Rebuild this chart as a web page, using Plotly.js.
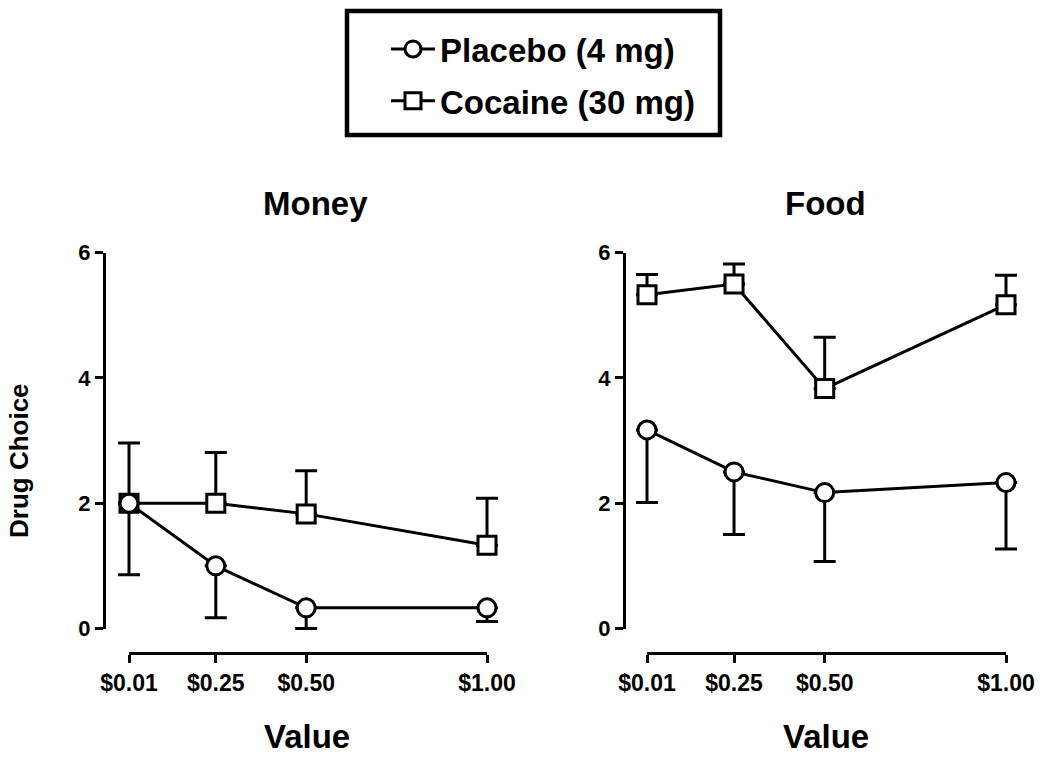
<!DOCTYPE html>
<html>
<head>
<meta charset="utf-8">
<script src="https://cdn.plot.ly/plotly-3.0.1.min.js"></script>
<style>html,body{margin:0;padding:0;background:#fff;}#chart{width:1050px;height:777px;}</style>
</head>
<body>
<div id="chart"></div>
<script>
// ---- data ----
const xValues = [0.01, 0.25, 0.50, 1.00];
const xTickLabels = ['$0.01', '$0.25', '$0.50', '$1.00'];
const seriesNames = ['Placebo (4 mg)', 'Cocaine (30 mg)'];
const panelTitles = ['Money', 'Food'];

const moneyPlacebo = [2.00, 1.00, 0.33, 0.33];
const moneyPlaceboErrDown = [1.14, 0.83, 0.33, 0.22];
const moneyCocaine = [2.00, 2.00, 1.83, 1.33];
const moneyCocaineErrUp = [0.96, 0.81, 0.69, 0.75];

const foodPlacebo = [3.17, 2.50, 2.17, 2.33];
const foodPlaceboErrDown = [1.16, 1.00, 1.10, 1.06];
const foodCocaine = [5.33, 5.50, 3.83, 5.17];
const foodCocaineErrUp = [0.32, 0.32, 0.82, 0.47];

const yTicks = [0, 2, 4, 6];
const xRange = [0.01, 1.00];
const yRange = [0, 6];

// ---- build ----
const FONT = 'Arial, "Liberation Sans", sans-serif';
const W = 1050, H = 777;
const px = v => v / W;
const py = v => (H - v) / H;
const zeros = a => a.map(() => 0);
const PAD = 25; // px of slack so error bars / markers at the edges are not clipped

// plot-area pixel boxes (left, right, top, bottom)
const panels = [
  {l: 129, r: 487, t: 252.7, b: 628.5, yAxisX: 104},
  {l: 647, r: 1006, t: 252.7, b: 628.5, yAxisX: 624}
];
const xAxisY = 653;

function trace(name, x, y, errUp, errDown, sym, xa, ya, showLeg, rank) {
  return {
    type: 'scatter', mode: 'lines+markers', name: name,
    x: x, y: y, xaxis: xa, yaxis: ya,
    legendgroup: name, legendrank: rank, showlegend: showLeg, cliponaxis: false,
    line: {color: '#000', width: 3},
    marker: {symbol: sym, size: 18, color: '#fff', line: {color: '#000', width: 3}},
    error_y: {type: 'data', symmetric: false, array: errUp, arrayminus: errDown,
              color: '#000', thickness: 3, width: 11}
  };
}

const data = [
  {type: 'scatter', x: [], y: [], xaxis: 'x', yaxis: 'y', showlegend: false},
  {type: 'scatter', x: [], y: [], xaxis: 'x2', yaxis: 'y2', showlegend: false},
  trace(seriesNames[1], xValues, moneyCocaine, moneyCocaineErrUp, zeros(moneyCocaine), 'square', 'x3', 'y3', true, 2),
  trace(seriesNames[0], xValues, moneyPlacebo, zeros(moneyPlacebo), moneyPlaceboErrDown, 'circle', 'x3', 'y3', true, 1),
  trace(seriesNames[1], xValues, foodCocaine, foodCocaineErrUp, zeros(foodCocaine), 'square', 'x4', 'y4', false, 2),
  trace(seriesNames[0], xValues, foodPlacebo, zeros(foodPlacebo), foodPlaceboErrDown, 'circle', 'x4', 'y4', false, 1)
];

function xAxis(p) {
  return {domain: [px(p.l), px(p.r)], range: xRange, anchor: 'free', position: py(xAxisY),
    tickmode: 'array', tickvals: xValues, ticktext: xTickLabels,
    ticks: 'outside', ticklen: 8, tickwidth: 3, tickcolor: '#000',
    showline: true, linewidth: 3, linecolor: '#000', showgrid: false, zeroline: false,
    tickfont: {family: FONT, size: 23, color: '#000', weight: 'bold'}, fixedrange: true};
}
function yAxis(p) {
  return {domain: [py(p.b), py(p.t)], range: yRange, anchor: 'free', position: px(p.yAxisX),
    tickmode: 'array', tickvals: yTicks, ticktext: yTicks.map(String),
    ticks: 'outside', ticklen: 8, tickwidth: 3, tickcolor: '#000',
    showline: true, linewidth: 3, linecolor: '#000', showgrid: false, zeroline: false,
    tickfont: {family: FONT, size: 22, color: '#000', weight: 'bold'}, fixedrange: true};
}
// hidden data axes: same scale as visible ones, but with extra room around them
function xData(p, ya) {
  const s = (xRange[1] - xRange[0]) / (p.r - p.l);
  return {domain: [px(p.l - PAD), px(p.r + PAD)], range: [xRange[0] - PAD * s, xRange[1] + PAD * s],
    anchor: ya, visible: false, fixedrange: true};
}
function yData(p, xa) {
  const s = (yRange[1] - yRange[0]) / (p.b - p.t);
  return {domain: [py(p.b + PAD), py(p.t - PAD)], range: [yRange[0] - PAD * s, yRange[1] + PAD * s],
    anchor: xa, visible: false, fixedrange: true};
}

const bigFont = {family: FONT, size: 33, color: '#000', weight: 'bold'};
function ann(text, x, y, font, extra) {
  return Object.assign({text: text, x: px(x), y: py(y), xref: 'paper', yref: 'paper',
    xanchor: 'center', yanchor: 'middle', showarrow: false, font: font}, extra || {});
}

const layout = {
  width: W, height: H,
  margin: {l: 0, r: 0, t: 0, b: 0},
  paper_bgcolor: '#fff', plot_bgcolor: 'rgba(0,0,0,0)',
  font: {family: FONT, color: '#000'},
  xaxis: xAxis(panels[0]), yaxis: yAxis(panels[0]),
  xaxis2: xAxis(panels[1]), yaxis2: yAxis(panels[1]),
  xaxis3: xData(panels[0], 'y3'), yaxis3: yData(panels[0], 'x3'),
  xaxis4: xData(panels[1], 'y4'), yaxis4: yData(panels[1], 'x4'),
  showlegend: true,
  legend: {x: px(386), y: py(21), xanchor: 'left', yanchor: 'top',
    traceorder: 'grouped', tracegroupgap: 6, itemwidth: 44,
    font: bigFont, bgcolor: 'rgba(0,0,0,0)', borderwidth: 0, itemclick: false},
  shapes: [{type: 'rect', xref: 'paper', yref: 'paper',
    x0: px(347), x1: px(720), y0: py(135), y1: py(11),
    line: {color: '#000', width: 4.5}, fillcolor: 'rgba(0,0,0,0)'}],
  annotations: [
    ann(panelTitles[0], 315, 203, bigFont),
    ann(panelTitles[1], 825, 203, bigFont),
    ann('Value', 307, 736, bigFont),
    ann('Value', 826, 736, bigFont),
    ann('Drug Choice', 19, 461, {family: FONT, size: 26, color: '#000', weight: 'bold'}, {textangle: -90})
  ]
};

Plotly.newPlot('chart', data, layout, {staticPlot: true, displayModeBar: false});
</script>
</body>
</html>
